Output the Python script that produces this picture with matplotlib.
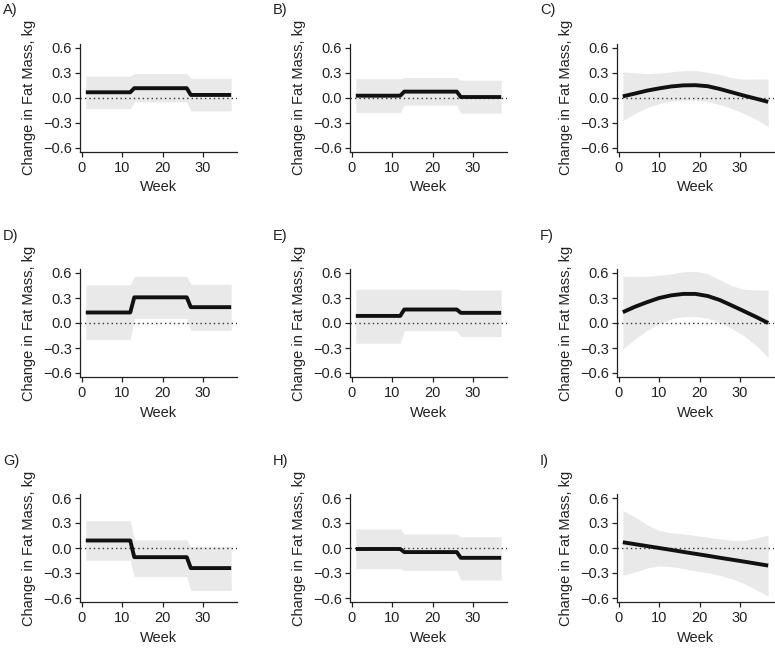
import numpy as np
import matplotlib
matplotlib.use('Agg')
import matplotlib.pyplot as plt

plt.rcParams['font.family'] = ['Liberation Sans', 'DejaVu Sans']

# step models: value for weeks 1-12, 13-26, 27-37
step_weeks = [1, 12, 13, 26, 27, 37]
step_data = {
    'A)': ([0.065, 0.114, 0.033], [0.26, 0.29, 0.23], [-0.13, -0.05, -0.16]),
    'B)': ([0.024, 0.073, 0.008], [0.227, 0.243, 0.21], [-0.178, -0.089, -0.186]),
    'D)': ([0.126, 0.308, 0.19], [0.458, 0.56, 0.466], [-0.199, 0.053, -0.089]),
    'E)': ([0.085, 0.162, 0.122], [0.405, 0.405, 0.397], [-0.243, -0.093, -0.162]),
    'G)': ([0.09, -0.11, -0.241], [0.327, 0.098, 0.016], [-0.147, -0.343, -0.51]),
    'H)': ([-0.012, -0.049, -0.118], [0.229, 0.167, 0.135], [-0.249, -0.269, -0.384]),
}

# smooth models read at every 3rd week
curve_weeks = [1, 4, 7, 10, 13, 16, 19, 22, 25, 28, 31, 34, 37]
c_line = [0.016, 0.05, 0.085, 0.112, 0.135, 0.148, 0.15, 0.138, 0.105, 0.065, 0.025, -0.012, -0.05]
c_up = [0.312, 0.298, 0.288, 0.296, 0.31, 0.325, 0.325, 0.305, 0.28, 0.24, 0.222, 0.224, 0.226]
c_lo = [-0.275, -0.19, -0.12, -0.07, -0.04, -0.029, -0.029, -0.045, -0.082, -0.13, -0.19, -0.26, -0.345]
f_line = [0.13, 0.195, 0.25, 0.30, 0.332, 0.349, 0.349, 0.324, 0.276, 0.21, 0.142, 0.073, 0.0]
f_up = [0.56, 0.558, 0.56, 0.572, 0.59, 0.615, 0.62, 0.59, 0.52, 0.446, 0.405, 0.397, 0.397]
f_lo = [-0.31, -0.195, -0.09, -0.008, 0.049, 0.077, 0.077, 0.057, 0.008, -0.065, -0.154, -0.27, -0.414]
i_line = [0.069, 0.046, 0.023, 0.0, -0.023, -0.047, -0.07, -0.093, -0.117, -0.14, -0.163, -0.187, -0.211]
i_up = [0.45, 0.373, 0.28, 0.21, 0.182, 0.17, 0.15, 0.13, 0.11, 0.093, 0.089, 0.118, 0.158]
i_lo = [-0.328, -0.288, -0.24, -0.215, -0.223, -0.247, -0.276, -0.296, -0.328, -0.369, -0.426, -0.5, -0.58]
curve_data = {'C)': (c_line, c_up, c_lo), 'F)': (f_line, f_up, f_lo), 'I)': (i_line, i_up, i_lo)}

order = [['A)', 'B)', 'C)'], ['D)', 'E)', 'F)'], ['G)', 'H)', 'I)']]
yticks = [-0.6, -0.3, 0.0, 0.3, 0.6]
ytick_labels = ['\u22120.6', '\u22120.3', '0.0', '0.3', '0.6']
xticks = [0, 10, 20, 30]

W, H = 775, 648
fig = plt.figure(figsize=(W / 100, H / 100), dpi=100)

lefts = [80, 350, 617]
tops = [43.7, 269, 494]
aw, ah = 157, 108

for r in range(3):
    for c in range(3):
        name = order[r][c]
        ax = fig.add_axes((lefts[c] / W, 1 - (tops[r] + ah) / H, aw / W, ah / H))
        if name in step_data:
            ln, up, lo = step_data[name]
            x = step_weeks
            y = np.repeat(ln, 2)
            yu = np.repeat(up, 2)
            yl = np.repeat(lo, 2)
        else:
            ln, up, lo = curve_data[name]
            x = curve_weeks
            y, yu, yl = ln, up, lo
        ax.fill_between(x, yl, yu, color='#e9e9e9', lw=0)
        ax.axhline(0, color='#333333', lw=1, ls=(0, (1, 2.2)))
        ax.plot(x, y, color='#111111', lw=2.8, solid_capstyle='butt', solid_joinstyle='round')
        ax.set_xlim(1 - 1.44, 37 + 1.44)
        ax.set_ylim(-0.648, 0.648)
        ax.set_xticks(xticks)
        ax.set_yticks(yticks)
        ax.set_yticklabels(ytick_labels)
        for s in ['top', 'right']:
            ax.spines[s].set_visible(False)
        for s in ['left', 'bottom']:
            ax.spines[s].set_linewidth(0.9)
            ax.spines[s].set_color('#222222')
        ax.tick_params(direction='out', length=3.6, width=0.9, color='#222222',
                       labelsize=10.5, labelcolor='#222222', pad=2)
        ax.tick_params(axis='x', pad=3)
        ax.set_xlabel('Week', fontsize=10.5, color='#222222', labelpad=4)
        ax.set_ylabel('Change in Fat Mass, kg', fontsize=10.5, color='#222222', labelpad=5)
        ax.text(-0.49, 1.31, name, transform=ax.transAxes, fontsize=10.5, color='#222222',
                ha='left', va='center')

fig.savefig('out.png', dpi=100)
